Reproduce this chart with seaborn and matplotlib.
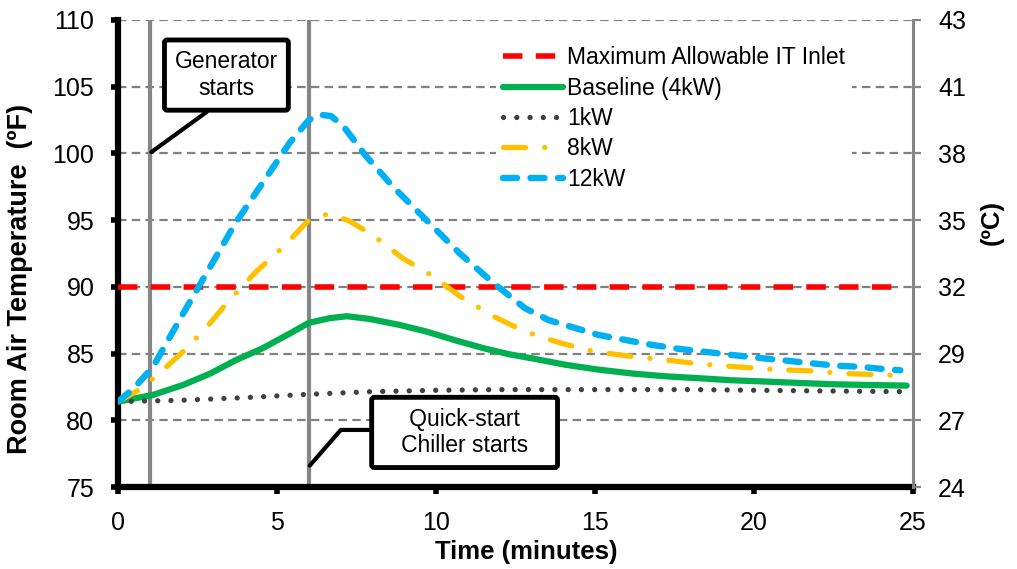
import matplotlib
matplotlib.use("Agg")
import matplotlib.pyplot as plt
import seaborn as sns
import numpy as np
import pandas as pd

# ---------------- data ----------------
LIMIT_TIME = [0.0, 24.6]
LIMIT_TEMP = [90.0, 90.0]

BASE_TIME = [0, 1.1, 2.05, 2.9, 3.7, 4.55, 5.4, 6.0, 6.65, 7.2, 7.9, 8.85, 9.7,
             10.6, 11.5, 12.3, 13.0, 14.1, 15.1, 16.2, 17.2, 18.3, 19.3, 20.4,
             21.4, 22.5, 23.5, 24.8]
BASE_TEMP = [81.4, 81.9, 82.65, 83.5, 84.5, 85.4, 86.5, 87.3, 87.65, 87.8, 87.6,
             87.15, 86.65, 86.0, 85.4, 84.95, 84.65, 84.15, 83.8, 83.5, 83.3,
             83.15, 83.0, 82.9, 82.8, 82.7, 82.65, 82.6]

KW1_TIME = [0, 2, 4, 6, 8, 10, 12, 14, 16, 18, 20, 22, 24.6]
KW1_TEMP = [81.4, 81.5, 81.7, 81.95, 82.15, 82.25, 82.3, 82.3, 82.3, 82.3,
            82.25, 82.2, 82.15]

KW8_TIME = [0, 0.6, 1.2, 2.05, 2.8, 3.5, 4.35, 5.2, 6.0, 6.5, 6.8, 7.3, 8.0,
            8.95, 9.9, 10.75, 11.8, 12.8, 13.9, 15.0, 16.1, 17.3, 18.4, 19.5,
            20.7, 21.8, 22.9, 24.1, 24.6]
KW8_TEMP = [81.4, 82.2, 83.3, 85.15, 87.0, 89.0, 91.15, 93.0, 95.0, 95.4, 95.4,
            94.9, 93.9, 92.15, 90.8, 89.3, 87.8, 86.65, 85.8, 85.15, 84.8, 84.5,
            84.2, 84.0, 83.8, 83.7, 83.5, 83.4, 83.35]

KW12_TIME = [0, 0.5, 1.1, 2.05, 2.9, 3.7, 4.55, 5.4, 6.0, 6.35, 6.7, 7.1, 7.8,
             8.65, 9.7, 10.75, 11.8, 12.8, 13.55, 14.4, 15.1, 16.0, 16.8, 17.65,
             18.4, 19.3, 20.05, 20.9, 21.7, 22.55, 23.4, 24.25, 24.6]
KW12_TEMP = [81.4, 82.4, 84.0, 88.0, 91.5, 94.8, 97.8, 100.8, 102.5, 102.9,
             102.8, 102.0, 99.8, 97.5, 95.0, 92.5, 90.3, 88.4, 87.5, 86.9, 86.4,
             86.0, 85.65, 85.35, 85.15, 84.9, 84.7, 84.5, 84.3, 84.1, 84.0, 83.8,
             83.75]

EVENT_TIMES = [1, 6]
F_TICKS = [75, 80, 85, 90, 95, 100, 105, 110]
C_TICK_LABELS = ["24", "27", "29", "32", "35", "38", "41", "43"]
X_TICKS = [0, 5, 10, 15, 20, 25]

# ---------------- style ----------------
sns.set_theme(style="white")
plt.rcParams["font.family"] = ["Liberation Sans", "DejaVu Sans"]
plt.rcParams["text.color"] = "black"
plt.rcParams["axes.labelcolor"] = "black"
plt.rcParams["xtick.color"] = "black"
plt.rcParams["ytick.color"] = "black"

fig = plt.figure(figsize=(10.17, 5.69), dpi=100)
ax = fig.add_axes([0.116, 0.1441, 0.7817, 0.8208])

GRAY = "#868686"

# event vertical lines
for t in EVENT_TIMES:
    ax.axvline(t, color=GRAY, lw=3, zorder=1.5)

series = [
    (LIMIT_TIME, LIMIT_TEMP, "Maximum Allowable IT Inlet",
     dict(color="#FF0000", lw=4, linestyle=(0, (3.5, 2.4)), dash_capstyle="butt")),
    (BASE_TIME, BASE_TEMP, "Baseline (4kW)",
     dict(color="#00B050", lw=4.5, linestyle="-", solid_capstyle="round")),
    (KW1_TIME, KW1_TEMP, "1kW",
     dict(color="#404040", lw=3.8, linestyle=(0, (0.01, 2.5)), dash_capstyle="round")),
    (KW8_TIME, KW8_TEMP, "8kW",
     dict(color="#FFC000", lw=3.8, linestyle=(0, (4.2, 3.6, 0.01, 3.6)), dash_capstyle="round")),
    (KW12_TIME, KW12_TEMP, "12kW",
     dict(color="#00B0F0", lw=4.6, linestyle=(0, (2.2, 2.1)), dash_capstyle="round")),
]

handles = []
for tt, vv, lab, kw in series:
    df = pd.DataFrame({"t": tt, "T": vv})
    sns.lineplot(data=df, x="t", y="T", ax=ax, label=lab, zorder=3, **kw)
    handles.append(ax.get_lines()[-1])

ax.set_xlim(0, 25)
ax.set_ylim(75, 110)
ax.set_xticks(X_TICKS)
ax.set_yticks(F_TICKS)

ax.grid(False)
ax.yaxis.grid(True, color="#808080", lw=1.6, linestyle=(0, (3.8, 2.4)))
ax.set_axisbelow(True)

for side in ["top", "right"]:
    ax.spines[side].set_visible(False)
for side in ["left", "bottom"]:
    ax.spines[side].set_color("black")
    ax.spines[side].set_linewidth(4.5)

ax.tick_params(axis="y", which="major", direction="out", length=5, width=4,
               color="black", labelsize=18, pad=12, left=True, labelcolor="black")
ax.tick_params(axis="x", which="major", direction="out", length=5, width=4,
               color="black", labelsize=18, pad=12, bottom=True, labelcolor="black")

ax.set_xlabel("Time (minutes)", fontsize=18.5, fontweight="bold", color="black")
ax.set_ylabel("Room Air Temperature  (ºF)", fontsize=19.5, fontweight="bold", color="black")
ax.xaxis.set_label_coords(0.514, -0.113)
ax.yaxis.set_label_coords(-0.107, 0.445)

# right axis (°C labels)
ax2 = ax.twinx()
ax2.set_ylim(75, 110)
ax2.set_yticks(F_TICKS)
ax2.set_yticklabels(C_TICK_LABELS)
ax2.grid(False)
for side in ["top", "left", "bottom"]:
    ax2.spines[side].set_visible(False)
ax2.spines["right"].set_color(GRAY)
ax2.spines["right"].set_linewidth(2.2)
ax2.tick_params(axis="y", direction="out", length=6, width=1.6, color=GRAY,
                labelsize=18, pad=12, right=True, labelcolor="black")
ax2.set_ylabel("(ºC)", fontsize=18.5, fontweight="bold", color="black")
ax2.yaxis.set_label_coords(1.084, 0.567)

# legend
leg = ax.legend(handles=handles, labels=[s[2] for s in series],
                loc="upper left", bbox_to_anchor=(0.476, 0.958),
                fontsize=16.5, frameon=True, facecolor="white",
                edgecolor="none", framealpha=1, fancybox=False,
                handlelength=2.6, handletextpad=0.2, labelspacing=0.32,
                borderpad=0.3, borderaxespad=0)
leg.set_zorder(4)
for txt in leg.get_texts():
    txt.set_color("black")

# annotation boxes
box = dict(boxstyle="round,pad=0.45,rounding_size=0.12", fc="white", ec="black", lw=3.5)
ax.annotate("Generator\nstarts", xy=(1.05, 100.1), xytext=(3.41, 105.87),
            ha="center", va="center", fontsize=16.5, bbox=box, zorder=6,
            arrowprops=dict(arrowstyle="-", lw=3, color="black",
                            shrinkA=0, shrinkB=0, relpos=(0.47, 0.0)))
ax.annotate("   Quick-start   \n   Chiller starts   ", xy=(6.03, 76.6), xytext=(10.9, 79.09),
            ha="center", va="center", fontsize=16.5, bbox=box, zorder=6,
            arrowprops=dict(arrowstyle="-", lw=3, color="black",
                            shrinkA=0, shrinkB=0, relpos=(0.0, 0.55),
                            connectionstyle="angle,angleA=0,angleB=49,rad=0"))

fig.savefig("out.png", dpi=100)
